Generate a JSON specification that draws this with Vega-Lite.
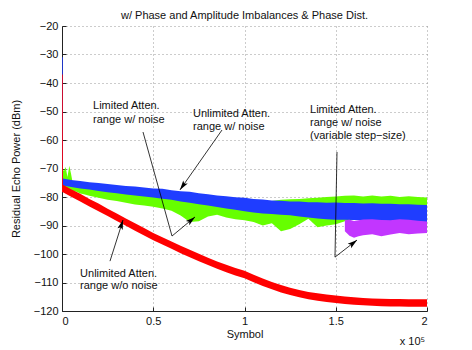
{
  "$schema": "https://vega.github.io/schema/vega-lite/v6.json",
  "width": 365,
  "height": 285,
  "autosize": "none",
  "padding": {"left": 62, "top": 26, "right": 45, "bottom": 39},
  "background": "white",
  "title": {"text": "w/ Phase and Amplitude Imbalances & Phase Dist.", "font": "Liberation Sans", "fontSize": 11, "fontWeight": "normal", "color": "#111", "offset": -1},
  "config": {
    "view": {"stroke": null},
    "axis": {"labelFont": "Liberation Sans", "labelFontSize": 11, "labelColor": "#111", "titleFont": "Liberation Sans", "titleFontSize": 11, "titleFontWeight": "normal", "titleColor": "#111", "grid": true, "gridDash": [1, 3], "gridColor": "#999999", "domainColor": "#222", "tickColor": "#222", "tickSize": -4, "labelPadding": 8}
  },
  "datasets": {
    "bands": [
      {"s": "g", "x": 0, "lo": -77.5, "hi": -69},
      {"s": "g", "x": 1000, "lo": -77.5, "hi": -71},
      {"s": "g", "x": 2000, "lo": -77.5, "hi": -69.5},
      {"s": "g", "x": 3000, "lo": -77.5, "hi": -73},
      {"s": "g", "x": 4000, "lo": -77.8, "hi": -69},
      {"s": "g", "x": 5000, "lo": -77.8, "hi": -72},
      {"s": "g", "x": 6000, "lo": -78, "hi": -75.5},
      {"s": "g", "x": 8000, "lo": -78.2, "hi": -75.5},
      {"s": "g", "x": 10000, "lo": -78.8, "hi": -74.5},
      {"s": "g", "x": 12000, "lo": -79, "hi": -75.8},
      {"s": "g", "x": 15000, "lo": -79.6, "hi": -76},
      {"s": "g", "x": 20000, "lo": -80.3, "hi": -76.5},
      {"s": "g", "x": 25000, "lo": -81, "hi": -77},
      {"s": "g", "x": 30000, "lo": -81.4, "hi": -77.5},
      {"s": "g", "x": 35000, "lo": -82, "hi": -78},
      {"s": "g", "x": 40000, "lo": -82.6, "hi": -78.3},
      {"s": "g", "x": 45000, "lo": -83, "hi": -78.6},
      {"s": "g", "x": 50000, "lo": -83.4, "hi": -79},
      {"s": "g", "x": 55000, "lo": -84, "hi": -79.3},
      {"s": "g", "x": 60000, "lo": -84.8, "hi": -79.6},
      {"s": "g", "x": 65000, "lo": -86.5, "hi": -80},
      {"s": "g", "x": 70000, "lo": -88.8, "hi": -80.3},
      {"s": "g", "x": 75000, "lo": -88.5, "hi": -80.5},
      {"s": "g", "x": 80000, "lo": -86.8, "hi": -80.8},
      {"s": "g", "x": 85000, "lo": -86.2, "hi": -81},
      {"s": "g", "x": 90000, "lo": -87.2, "hi": -81.2},
      {"s": "g", "x": 95000, "lo": -87.8, "hi": -81.8},
      {"s": "g", "x": 100000, "lo": -88.2, "hi": -82},
      {"s": "g", "x": 105000, "lo": -88.8, "hi": -82},
      {"s": "g", "x": 110000, "lo": -90, "hi": -81.8},
      {"s": "g", "x": 115000, "lo": -89.2, "hi": -81.4},
      {"s": "g", "x": 120000, "lo": -92, "hi": -81},
      {"s": "g", "x": 125000, "lo": -91.2, "hi": -80.8},
      {"s": "g", "x": 130000, "lo": -89.6, "hi": -80.7},
      {"s": "g", "x": 135000, "lo": -87.6, "hi": -80.4},
      {"s": "g", "x": 140000, "lo": -90.6, "hi": -80.3},
      {"s": "g", "x": 145000, "lo": -90, "hi": -80},
      {"s": "g", "x": 150000, "lo": -89.6, "hi": -79.8},
      {"s": "g", "x": 155000, "lo": -88.5, "hi": -79.6},
      {"s": "g", "x": 160000, "lo": -88, "hi": -79.5},
      {"s": "g", "x": 165000, "lo": -88, "hi": -79.8},
      {"s": "g", "x": 170000, "lo": -88, "hi": -79.5},
      {"s": "g", "x": 175000, "lo": -88, "hi": -79.8},
      {"s": "g", "x": 180000, "lo": -88, "hi": -79.6},
      {"s": "g", "x": 185000, "lo": -88, "hi": -80},
      {"s": "g", "x": 190000, "lo": -88, "hi": -79.7},
      {"s": "g", "x": 195000, "lo": -88, "hi": -80},
      {"s": "g", "x": 200000, "lo": -88, "hi": -80.2},

      {"s": "b", "x": 0, "lo": -76, "hi": -31},
      {"s": "b", "x": 400, "lo": -76, "hi": -31},
      {"s": "b", "x": 500, "lo": -76, "hi": -73.5},
      {"s": "b", "x": 5000, "lo": -76.5, "hi": -74},
      {"s": "b", "x": 10000, "lo": -77, "hi": -74.4},
      {"s": "b", "x": 15000, "lo": -77.4, "hi": -74.8},
      {"s": "b", "x": 20000, "lo": -77.9, "hi": -75.1},
      {"s": "b", "x": 25000, "lo": -78.3, "hi": -75.4},
      {"s": "b", "x": 30000, "lo": -78.7, "hi": -75.8},
      {"s": "b", "x": 35000, "lo": -79.1, "hi": -76.1},
      {"s": "b", "x": 40000, "lo": -79.5, "hi": -76.3},
      {"s": "b", "x": 45000, "lo": -79.8, "hi": -76.7},
      {"s": "b", "x": 50000, "lo": -80.2, "hi": -77},
      {"s": "b", "x": 55000, "lo": -80.6, "hi": -77.1},
      {"s": "b", "x": 60000, "lo": -81, "hi": -77.6},
      {"s": "b", "x": 65000, "lo": -81.6, "hi": -78},
      {"s": "b", "x": 70000, "lo": -82, "hi": -78.2},
      {"s": "b", "x": 75000, "lo": -82.5, "hi": -78.7},
      {"s": "b", "x": 80000, "lo": -83, "hi": -79},
      {"s": "b", "x": 85000, "lo": -83.5, "hi": -79.5},
      {"s": "b", "x": 90000, "lo": -84, "hi": -79.7},
      {"s": "b", "x": 95000, "lo": -84.5, "hi": -80.1},
      {"s": "b", "x": 100000, "lo": -85, "hi": -80.3},
      {"s": "b", "x": 105000, "lo": -85.4, "hi": -80.7},
      {"s": "b", "x": 110000, "lo": -85.8, "hi": -80.9},
      {"s": "b", "x": 115000, "lo": -86, "hi": -81.2},
      {"s": "b", "x": 120000, "lo": -86.2, "hi": -81.3},
      {"s": "b", "x": 125000, "lo": -86.4, "hi": -81.6},
      {"s": "b", "x": 130000, "lo": -86.8, "hi": -81.6},
      {"s": "b", "x": 135000, "lo": -87.2, "hi": -81.8},
      {"s": "b", "x": 140000, "lo": -87.5, "hi": -81.8},
      {"s": "b", "x": 145000, "lo": -87.8, "hi": -82},
      {"s": "b", "x": 150000, "lo": -88, "hi": -81.9},
      {"s": "b", "x": 155000, "lo": -88, "hi": -82.1},
      {"s": "b", "x": 160000, "lo": -88.1, "hi": -82.1},
      {"s": "b", "x": 165000, "lo": -88.2, "hi": -82.3},
      {"s": "b", "x": 170000, "lo": -88.2, "hi": -82.2},
      {"s": "b", "x": 175000, "lo": -88.3, "hi": -82.4},
      {"s": "b", "x": 180000, "lo": -88.4, "hi": -82.4},
      {"s": "b", "x": 185000, "lo": -88.5, "hi": -82.5},
      {"s": "b", "x": 190000, "lo": -88.6, "hi": -82.5},
      {"s": "b", "x": 195000, "lo": -88.7, "hi": -82.7},
      {"s": "b", "x": 200000, "lo": -88.8, "hi": -82.8},

      {"s": "p", "x": 155000, "lo": -92, "hi": -88.2},
      {"s": "p", "x": 157500, "lo": -93.6, "hi": -88},
      {"s": "p", "x": 160000, "lo": -94.3, "hi": -88.4},
      {"s": "p", "x": 162500, "lo": -93.8, "hi": -88.2},
      {"s": "p", "x": 165000, "lo": -93.4, "hi": -87.9},
      {"s": "p", "x": 170000, "lo": -93.1, "hi": -87.8},
      {"s": "p", "x": 175000, "lo": -93.8, "hi": -88.1},
      {"s": "p", "x": 180000, "lo": -93.2, "hi": -88.2},
      {"s": "p", "x": 185000, "lo": -92.6, "hi": -87.8},
      {"s": "p", "x": 190000, "lo": -93.1, "hi": -88},
      {"s": "p", "x": 195000, "lo": -92.8, "hi": -88.3},
      {"s": "p", "x": 200000, "lo": -92.6, "hi": -88.6},

      {"s": "r", "x": 0, "lo": -78.3, "hi": -37},
      {"s": "r", "x": 400, "lo": -78.3, "hi": -37},
      {"s": "r", "x": 500, "lo": -78.3, "hi": -75.7},
      {"s": "r", "x": 5000, "lo": -79.9, "hi": -77.3},
      {"s": "r", "x": 10000, "lo": -81.6, "hi": -78.9},
      {"s": "r", "x": 15000, "lo": -83.3, "hi": -80.7},
      {"s": "r", "x": 20000, "lo": -85, "hi": -82.3},
      {"s": "r", "x": 25000, "lo": -86.7, "hi": -84.1},
      {"s": "r", "x": 30000, "lo": -88.4, "hi": -85.8},
      {"s": "r", "x": 35000, "lo": -90.1, "hi": -87.5},
      {"s": "r", "x": 40000, "lo": -91.8, "hi": -89.2},
      {"s": "r", "x": 45000, "lo": -93.5, "hi": -90.9},
      {"s": "r", "x": 50000, "lo": -95.2, "hi": -92.6},
      {"s": "r", "x": 55000, "lo": -96.7, "hi": -94.1},
      {"s": "r", "x": 60000, "lo": -98.2, "hi": -95.6},
      {"s": "r", "x": 65000, "lo": -99.7, "hi": -97.1},
      {"s": "r", "x": 70000, "lo": -101.1, "hi": -98.5},
      {"s": "r", "x": 75000, "lo": -102.5, "hi": -99.9},
      {"s": "r", "x": 80000, "lo": -103.9, "hi": -101.3},
      {"s": "r", "x": 85000, "lo": -105.2, "hi": -102.6},
      {"s": "r", "x": 90000, "lo": -106.4, "hi": -103.8},
      {"s": "r", "x": 95000, "lo": -107.5, "hi": -104.9},
      {"s": "r", "x": 100000, "lo": -108.5, "hi": -105.9},
      {"s": "r", "x": 105000, "lo": -109.9, "hi": -107.3},
      {"s": "r", "x": 110000, "lo": -111.2, "hi": -108.6},
      {"s": "r", "x": 115000, "lo": -112.4, "hi": -109.8},
      {"s": "r", "x": 120000, "lo": -113.5, "hi": -110.9},
      {"s": "r", "x": 125000, "lo": -114.4, "hi": -111.8},
      {"s": "r", "x": 130000, "lo": -115.2, "hi": -112.6},
      {"s": "r", "x": 135000, "lo": -115.9, "hi": -113.3},
      {"s": "r", "x": 140000, "lo": -116.4, "hi": -113.8},
      {"s": "r", "x": 145000, "lo": -116.8, "hi": -114.2},
      {"s": "r", "x": 150000, "lo": -117.2, "hi": -114.6},
      {"s": "r", "x": 155000, "lo": -117.5, "hi": -114.9},
      {"s": "r", "x": 160000, "lo": -117.8, "hi": -115.2},
      {"s": "r", "x": 165000, "lo": -118, "hi": -115.4},
      {"s": "r", "x": 170000, "lo": -118.2, "hi": -115.6},
      {"s": "r", "x": 175000, "lo": -118.3, "hi": -115.7},
      {"s": "r", "x": 180000, "lo": -118.4, "hi": -115.8},
      {"s": "r", "x": 185000, "lo": -118.4, "hi": -115.8},
      {"s": "r", "x": 190000, "lo": -118.5, "hi": -115.9},
      {"s": "r", "x": 195000, "lo": -118.5, "hi": -115.9},
      {"s": "r", "x": 200000, "lo": -118.5, "hi": -115.9}
    ],
    "segs": [
      {"x": 44384, "y": -57.2, "x2": 60274, "y2": -93.7},
      {"x": 60274, "y": -93.7, "x2": 72877, "y2": -87.0},
      {"x": 87671, "y": -56.5, "x2": 64658, "y2": -77.5},
      {"x": 26301, "y": -102.5, "x2": 33425, "y2": -88.1},
      {"x": 150685, "y": -64.2, "x2": 149589, "y2": -101.1},
      {"x": 149589, "y": -101.1, "x2": 161644, "y2": -95.1}
    ],
    "heads": [
      {"x": 70356, "y": -88.35, "dir": 50.4},
      {"x": 66521, "y": -75.8, "dir": 215},
      {"x": 32438, "y": -90.07, "dir": 17.6},
      {"x": 159068, "y": -96.4, "dir": 52.3}
    ],
    "labels": [
      {"x": 17000, "y": -48.1, "t": "Limited Atten."},
      {"x": 17000, "y": -53.0, "t": "range w/ noise"},
      {"x": 71800, "y": -50.9, "t": "Unlimited Atten."},
      {"x": 71800, "y": -55.4, "t": "range w/ noise"},
      {"x": 135900, "y": -49.5, "t": "Limited Atten."},
      {"x": 135900, "y": -54.0, "t": "range w/ noise"},
      {"x": 135900, "y": -58.6, "t": "(variable step−size)"},
      {"x": 9900, "y": -107.0, "t": "Unlimited Atten."},
      {"x": 9900, "y": -111.2, "t": "range w/o noise"}
    ],
    "note": [{"x": 199000, "y": -131.0, "t": "x 10⁵"}]
  },
  "encoding": {
    "x": {"type": "quantitative", "scale": {"domain": [0, 200000], "nice": false}, "axis": {"title": "Symbol", "values": [0, 50000, 100000, 150000, 200000], "labelExpr": "'' + datum.value / 100000", "titlePadding": 2, "labelOverlap": false}},
    "y": {"type": "quantitative", "scale": {"domain": [-120, -20], "nice": false}, "axis": {"title": "Residual Echo Power (dBm)", "values": [-120, -110, -100, -90, -80, -70, -60, -50, -40, -30, -20], "titlePadding": 12, "labelOverlap": false, "labelSeparation": 0}}
  },
  "layer": [
    {
      "data": {"name": "bands"},
      "transform": [{"filter": "datum.s == 'g'"}],
      "mark": {"type": "area", "color": "#66ff00", "opacity": 1},
      "encoding": {
        "x": {"field": "x", "type": "quantitative"},
        "y": {"field": "hi", "type": "quantitative"},
        "y2": {"field": "lo"}
      }
    },
    {
      "data": {"name": "bands"},
      "transform": [{"filter": "datum.s == 'b'"}],
      "mark": {"type": "area", "color": "#1f3dff", "opacity": 1},
      "encoding": {
        "x": {"field": "x", "type": "quantitative"},
        "y": {"field": "hi", "type": "quantitative"},
        "y2": {"field": "lo"}
      }
    },
    {
      "data": {"name": "bands"},
      "transform": [{"filter": "datum.s == 'p'"}],
      "mark": {"type": "area", "color": "#c236ff", "opacity": 1},
      "encoding": {
        "x": {"field": "x", "type": "quantitative"},
        "y": {"field": "hi", "type": "quantitative"},
        "y2": {"field": "lo"}
      }
    },
    {
      "data": {"name": "bands"},
      "transform": [{"filter": "datum.s == 'r'"}],
      "mark": {"type": "area", "color": "#ff0000", "opacity": 1},
      "encoding": {
        "x": {"field": "x", "type": "quantitative"},
        "y": {"field": "hi", "type": "quantitative"},
        "y2": {"field": "lo"}
      }
    },
    {
      "data": {"name": "segs"},
      "mark": {"type": "rule", "color": "#000", "strokeWidth": 0.8},
      "encoding": {
        "x": {"field": "x", "type": "quantitative"},
        "y": {"field": "y", "type": "quantitative"},
        "x2": {"field": "x2"},
        "y2": {"field": "y2"}
      }
    },
    {
      "data": {"name": "heads"},
      "mark": {"type": "point", "shape": "M0,-1L0.45,0.6L0,0.25L-0.45,0.6Z", "filled": true, "color": "#000", "opacity": 1, "size": 150},
      "encoding": {
        "x": {"field": "x", "type": "quantitative"},
        "y": {"field": "y", "type": "quantitative"},
        "angle": {"field": "dir", "type": "quantitative", "scale": null}
      }
    },
    {
      "data": {"name": "labels"},
      "mark": {"type": "text", "align": "left", "baseline": "middle", "font": "Liberation Sans", "fontSize": 11, "color": "#111"},
      "encoding": {
        "x": {"field": "x", "type": "quantitative"},
        "y": {"field": "y", "type": "quantitative"},
        "text": {"field": "t"}
      }
    },
    {
      "data": {"name": "note"},
      "mark": {"type": "text", "align": "right", "baseline": "middle", "font": "Liberation Sans", "fontSize": 11, "color": "#111"},
      "encoding": {
        "x": {"field": "x", "type": "quantitative"},
        "y": {"field": "y", "type": "quantitative"},
        "text": {"field": "t"}
      }
    }
  ]
}
